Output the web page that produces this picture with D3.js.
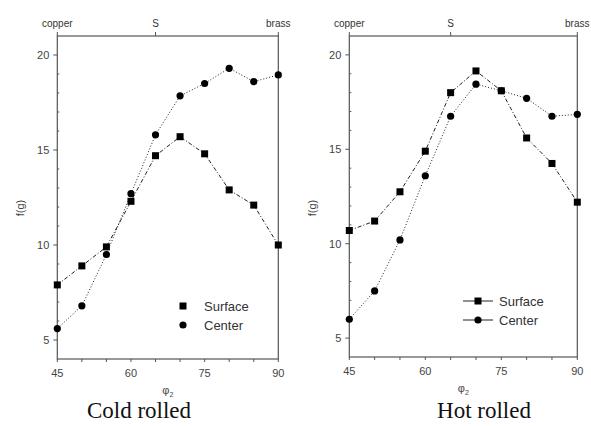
<!DOCTYPE html>
<html lang="en">
<head>
    <meta charset="UTF-8" />
    <title>f(g) along phi2 - cold and hot rolled</title>
    <script src="https://d3js.org/d3.v7.min.js"></script>
    <style>
        body { margin: 0; background: #fff; }
        .tick-label { font: 11px "Liberation Sans", Arial, sans-serif; fill: #444; }
        .top-label { font: 10px "Liberation Sans Narrow", "Liberation Sans", Arial, sans-serif; fill: #333; }
        .legend-text { font: 13px "Liberation Sans", Arial, sans-serif; fill: #333; }
        .caption { font: 23px "Liberation Serif", "DejaVu Serif", serif; fill: #111; }
    </style>
</head>
<body>
<div id="chart"></div>
<script>
// data
var phi2 = [45, 50, 55, 60, 65, 70, 75, 80, 85, 90];
var coldSurface = [7.9, 8.9, 9.9, 12.3, 14.7, 15.7, 14.8, 12.9, 12.1, 10.0];
var coldCenter = [5.6, 6.8, 9.5, 12.7, 15.8, 17.85, 18.5, 19.3, 18.6, 18.95];
var hotSurface = [10.7, 11.2, 12.75, 14.9, 18.0, 19.15, 18.1, 15.6, 14.25, 12.2];
var hotCenter = [6.0, 7.5, 10.2, 13.6, 16.75, 18.45, 18.1, 17.7, 16.75, 16.85];
var xTicks = [45, 60, 75, 90];
var yTicks = [5, 10, 15, 20];
var topLabels = [{ x: 45, t: "copper" }, { x: 65, t: "S" }, { x: 90, t: "brass" }];
var seriesNames = ["Surface", "Center"];

var svg = d3.select("#chart").append("svg")
    .attr("width", 591)
    .attr("height", 426);

// draw one panel
function drawPanel(opt) {
    var x = d3.scaleLinear().domain([45, 90]).range([opt.left, opt.right]);
    var y = d3.scaleLinear().domain([4, 21]).range([opt.bottom, 36]);
    var g = svg.append("g");
    var axisColor = "#555";

    // frame: left, top, right, bottom
    g.append("rect")
        .attr("x", opt.left).attr("y", y(21))
        .attr("width", opt.right - opt.left).attr("height", y(4) - y(21))
        .attr("fill", "none").attr("stroke", axisColor).attr("stroke-width", 1.2);

    // bottom ticks every 5 degrees
    g.selectAll(".xt").data(d3.range(45, 91, 5)).enter().append("line")
        .attr("x1", function(d) { return x(d); }).attr("x2", function(d) { return x(d); })
        .attr("y1", y(4)).attr("y2", y(4) + 3)
        .attr("stroke", axisColor);
    g.selectAll(".xl").data(xTicks).enter().append("text")
        .attr("class", "tick-label")
        .attr("x", function(d) { return x(d); }).attr("y", y(4) + 18)
        .attr("text-anchor", "middle")
        .text(function(d) { return d; });

    // y: major outward, minor inward
    g.selectAll(".yt").data(yTicks).enter().append("line")
        .attr("x1", opt.left - 4).attr("x2", opt.left)
        .attr("y1", function(d) { return y(d); }).attr("y2", function(d) { return y(d); })
        .attr("stroke", axisColor);
    g.selectAll(".ym").data(d3.range(5, 21).filter(function(d) { return d % 5 != 0; })).enter().append("line")
        .attr("x1", opt.left).attr("x2", opt.left + 2)
        .attr("y1", function(d) { return y(d); }).attr("y2", function(d) { return y(d); })
        .attr("stroke", axisColor);
    g.selectAll(".yl").data(yTicks).enter().append("text")
        .attr("class", "tick-label")
        .attr("x", opt.left - 8).attr("y", function(d) { return y(d) + 4; })
        .attr("text-anchor", "end")
        .text(function(d) { return d; });

    // top axis with texture names
    g.selectAll(".tt").data(topLabels).enter().append("line")
        .attr("x1", function(d) { return x(d.x); }).attr("x2", function(d) { return x(d.x); })
        .attr("y1", y(21)).attr("y2", y(21) - 4)
        .attr("stroke", axisColor);
    g.selectAll(".tl").data(topLabels).enter().append("text")
        .attr("class", "top-label")
        .attr("x", function(d) { return x(d.x); }).attr("y", 27)
        .attr("text-anchor", "middle")
        .text(function(d) { return d.t; });

    // axis titles
    g.append("text")
        .attr("class", "tick-label")
        .attr("transform", "translate(" + (opt.left - 33) + ",208) rotate(-90)")
        .attr("text-anchor", "middle")
        .text("f(g)");
    var xt = g.append("text")
        .attr("class", "tick-label")
        .attr("x", x(67.5)).attr("y", y(4) + 35)
        .attr("text-anchor", "middle");
    xt.append("tspan").text("φ");
    xt.append("tspan").attr("font-size", 7).attr("dy", 3).text("2");

    g.append("text")
        .attr("class", "caption")
        .attr("x", opt.captionX).attr("y", 418)
        .attr("text-anchor", "middle")
        .text(opt.caption);

    // series
    var sets = [opt.surface, opt.center];
    var dashes = ["4,2,1,2", "1,2"];
    sets.forEach(function(vals, k) {
        var line = d3.line()
            .x(function(d, i) { return x(phi2[i]); })
            .y(function(d) { return y(d); });
        g.append("path")
            .datum(vals)
            .attr("d", line)
            .attr("fill", "none")
            .attr("stroke", "#222")
            .attr("stroke-width", 1)
            .attr("stroke-dasharray", dashes[k]);
        var pts = g.selectAll(".p" + k).data(vals).enter();
        if (k == 0) {
            pts.append("rect")
                .attr("x", function(d, i) { return x(phi2[i]) - 3.5; })
                .attr("y", function(d) { return y(d) - 3.5; })
                .attr("width", 7).attr("height", 7)
                .attr("fill", "#000");
        } else {
            pts.append("circle")
                .attr("cx", function(d, i) { return x(phi2[i]); })
                .attr("cy", function(d) { return y(d); })
                .attr("r", 3.6)
                .attr("fill", "#000");
        }
    });

    // legend
    seriesNames.forEach(function(name, k) {
        var ly = opt.legendY + k * 19;
        if (opt.legendLines) {
            g.append("line")
                .attr("x1", opt.legendX - 15).attr("x2", opt.legendX + 15)
                .attr("y1", ly).attr("y2", ly)
                .attr("stroke", "#222").attr("stroke-width", 1);
        }
        if (k == 0) {
            g.append("rect").attr("x", opt.legendX - 3.5).attr("y", ly - 3.5)
                .attr("width", 7).attr("height", 7).attr("fill", "#000");
        } else {
            g.append("circle").attr("cx", opt.legendX).attr("cy", ly)
                .attr("r", 3.6).attr("fill", "#000");
        }
        g.append("text")
            .attr("class", "legend-text")
            .attr("x", opt.legendX + 21)
            .attr("y", ly + 5)
            .text(name);
    });
}

drawPanel({
    left: 57.3, right: 278.3, bottom: 359,
    surface: coldSurface, center: coldCenter,
    caption: "Cold rolled", captionX: 139,
    legendX: 183, legendY: 306, legendLines: false
});
drawPanel({
    left: 349.3, right: 577.3, bottom: 357,
    surface: hotSurface, center: hotCenter,
    caption: "Hot rolled", captionX: 484,
    legendX: 478, legendY: 301, legendLines: true
});
</script>
</body>
</html>
